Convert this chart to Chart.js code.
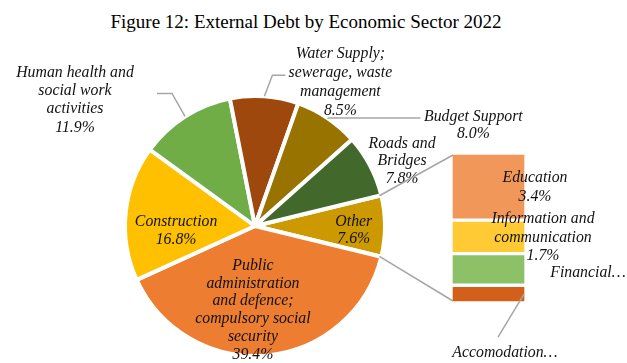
<!DOCTYPE html>
<html>
<head>
<meta charset="utf-8">
<script src="https://cdn.jsdelivr.net/npm/chart.js@4/dist/chart.umd.min.js"></script>
<style>
  html, body { margin: 0; padding: 0; background: #ffffff; }
  #wrap { position: relative; width: 627px; height: 363px; overflow: hidden; }
  #wrap canvas { position: absolute; left: 0; top: 0; }
  #title {
    position: absolute; left: 0; top: 11px; width: 612px; line-height: 22px;
    text-align: center; font-family: "Liberation Serif", "Times New Roman", serif;
    font-size: 19px; color: #000000;
  }
</style>
</head>
<body>
<div id="wrap">
  <div id="title">Figure 12: External Debt by Economic Sector 2022</div>
  <canvas id="pie" width="627" height="363"></canvas>
  <canvas id="bar" width="627" height="363"></canvas>
</div>
<script>
// Sectors of the main pie, listed clockwise starting with the "Other" slice
const sectors = [
  'Other',
  'Public administration and defence; compulsory social security',
  'Construction',
  'Human health and social work activities',
  'Water Supply; sewerage, waste management',
  'Budget Support',
  'Roads and Bridges'
];
const sectorShares = [7.6, 39.4, 16.8, 11.9, 8.5, 8.0, 7.8];
const sectorColors = ['#CC9900', '#ED7D31', '#FFC000', '#70AD47', '#9E480E', '#997300', '#43682B'];

// Breakdown of "Other", stacked from top to bottom
const otherParts = ['Education', 'Information and communication', 'Financial…', 'Accomodation…'];
const otherShares = [3.4, 1.7, 1.6, 0.9];
const otherColors = ['#F1975A', '#FFCA33', '#8CC168', '#D2601A'];

const LABEL_FONT = 'italic 15.8px "Liberation Serif", "Times New Roman", serif';
const TEXT_COLOR = '#111111';
const LEADER_COLOR = '#A6A6A6';

const pct = v => v.toFixed(1) + '%';

function drawBlock(ctx, lines, cx, cy, lh) {
  ctx.save();
  ctx.font = LABEL_FONT;
  ctx.fillStyle = TEXT_COLOR;
  ctx.textAlign = 'center';
  ctx.textBaseline = 'middle';
  const n = lines.length;
  lines.forEach((t, i) => ctx.fillText(t, cx, cy + (i - (n - 1) / 2) * lh));
  ctx.restore();
}

function drawPolyline(ctx, pts) {
  ctx.save();
  ctx.strokeStyle = LEADER_COLOR;
  ctx.lineWidth = 1.5;
  ctx.beginPath();
  pts.forEach((p, i) => i ? ctx.lineTo(p[0], p[1]) : ctx.moveTo(p[0], p[1]));
  ctx.stroke();
  ctx.restore();
}

// Data labels of the pie: text lines, anchor radius (fraction of outer radius),
// text offset from the anchor and optional leader-line bends relative to the anchor
const pieLabelPlugin = {
  id: 'pieLabels',
  afterDatasetsDraw(chart, args, opts) {
    const ctx = chart.ctx;
    const meta = chart.getDatasetMeta(0);
    const values = chart.data.datasets[0].data;
    meta.data.forEach((arc, i) => {
      const cfg = opts.items[i];
      const p = arc.getProps(['x', 'y', 'startAngle', 'endAngle', 'outerRadius'], true);
      const mid = (p.startAngle + p.endAngle) / 2;
      const r = p.outerRadius * cfg.fr;
      const ax = p.x + r * Math.cos(mid);
      const ay = p.y + r * Math.sin(mid);
      if (cfg.leader) {
        drawPolyline(ctx, [[ax, ay]].concat(cfg.leader.map(d => [ax + d[0], ay + d[1]])));
      }
      drawBlock(ctx, cfg.lines.concat([pct(values[i])]), ax + cfg.dx, ay + cfg.dy, cfg.lh);
    });
  }
};

const pieChart = new Chart(document.getElementById('pie'), {
  type: 'pie',
  data: {
    labels: sectors,
    datasets: [{
      data: sectorShares,
      backgroundColor: sectorColors,
      borderColor: '#ffffff',
      borderWidth: 4
    }]
  },
  options: {
    responsive: false,
    animation: false,
    events: [],
    radius: 130,
    rotation: 90 - (sectorShares[0] / sectorShares.reduce((a, b) => a + b, 0)) * 180,
    layout: { padding: { left: 0, right: 117, top: 89, bottom: 0 } },
    plugins: {
      legend: { display: false },
      tooltip: { enabled: false },
      pieLabels: {
        items: [
          { lines: ['Other'], fr: 0.76, dx: 0, dy: 4, lh: 17 },
          { lines: ['Public', 'administration', 'and defence;', 'compulsory social', 'security'], fr: 0.65, dx: -10, dy: 0, lh: 17.8 },
          { lines: ['Construction'], fr: 0.61, dx: 0, dy: 13, lh: 18 },
          { lines: ['Human health and', 'social work', 'activities'], fr: 1, dx: -110, dy: -16.5, lh: 18.3, leader: [[-13, -23], [-28, -23]] },
          { lines: ['Water Supply;', 'sewerage, waste', 'management'], fr: 1, dx: 76, dy: -14, lh: 18.7, leader: [[8, -21], [21, -21]] },
          { lines: ['Budget Support'], fr: 1, dx: 146, dy: 7, lh: 17, leader: [[93, 0]] },
          { lines: ['Roads and', 'Bridges'], fr: 1, dx: 32, dy: -4.5, lh: 17.5 }
        ]
      }
    }
  },
  plugins: [pieLabelPlugin]
});

// Labels of the stacked bar plus the two connector lines from the "Other" slice
const barLabelPlugin = {
  id: 'barLabels',
  afterDatasetsDraw(chart, args, opts) {
    const ctx = chart.ctx;
    const yScale = chart.scales.y;
    const first = chart.getDatasetMeta(0).data[0];
    const fp = first.getProps(['x', 'width'], true);
    const left = fp.x - fp.width / 2 + 2;
    const top = yScale.getPixelForValue(0) + 2;
    const bottom = yScale.getPixelForValue(yScale.max) - 2;

    // connectors from the outer corners of the "Other" slice
    const arc = pieChart.getDatasetMeta(0).data[0];
    const a = arc.getProps(['x', 'y', 'startAngle', 'endAngle', 'outerRadius'], true);
    const R = a.outerRadius - 2;
    drawPolyline(ctx, [[a.x + R * Math.cos(a.startAngle), a.y + R * Math.sin(a.startAngle)], [left, top]]);
    drawPolyline(ctx, [[a.x + R * Math.cos(a.endAngle), a.y + R * Math.sin(a.endAngle)], [left, bottom]]);

    chart.data.datasets.forEach((ds, i) => {
      const cfg = opts.items[i];
      const el = chart.getDatasetMeta(i).data[0];
      const p = el.getProps(['x', 'y', 'base', 'width'], true);
      const cy = (p.y + p.base) / 2;
      const lines = cfg.showValue ? cfg.lines.concat([pct(ds.data[0])]) : cfg.lines;
      if (cfg.leader) {
        const ax = p.x + p.width / 2 - 2;
        drawPolyline(ctx, [[ax, cy]].concat(cfg.leader.map(d => [ax + d[0], cy + d[1]])));
        drawBlock(ctx, lines, ax + cfg.dx, cy + cfg.dy, cfg.lh);
      } else {
        drawBlock(ctx, lines, p.x + cfg.dx, cy + cfg.dy, cfg.lh);
      }
    });
  }
};

new Chart(document.getElementById('bar'), {
  type: 'bar',
  data: {
    labels: ['Other'],
    datasets: otherParts.map((name, i) => ({
      label: name,
      data: [otherShares[i]],
      backgroundColor: otherColors[i],
      borderColor: '#ffffff',
      borderWidth: 2,
      borderSkipped: false,
      barPercentage: 1,
      categoryPercentage: 1
    }))
  },
  options: {
    responsive: false,
    animation: false,
    events: [],
    layout: { padding: { left: 451, right: 101, top: 153, bottom: 60 } },
    scales: {
      x: { display: false, stacked: true },
      y: { display: false, stacked: true, reverse: true, min: 0, max: otherShares.reduce((a, b) => a + b, 0) }
    },
    plugins: {
      legend: { display: false },
      tooltip: { enabled: false },
      barLabels: {
        items: [
          { lines: ['Education'], showValue: true, dx: 46.5, dy: 1, lh: 19 },
          { lines: ['Information and', 'communication'], showValue: true, dx: 54.5, dy: 0.6, lh: 18.5 },
          { lines: ['Financial…'], showValue: false, dx: 99.5, dy: 3.5, lh: 18 },
          { lines: ['Accomodation…'], showValue: false, dx: -19, dy: 59, lh: 18, leader: [[-26, 43]] }
        ]
      }
    }
  },
  plugins: [barLabelPlugin]
});
</script>
</body>
</html>
